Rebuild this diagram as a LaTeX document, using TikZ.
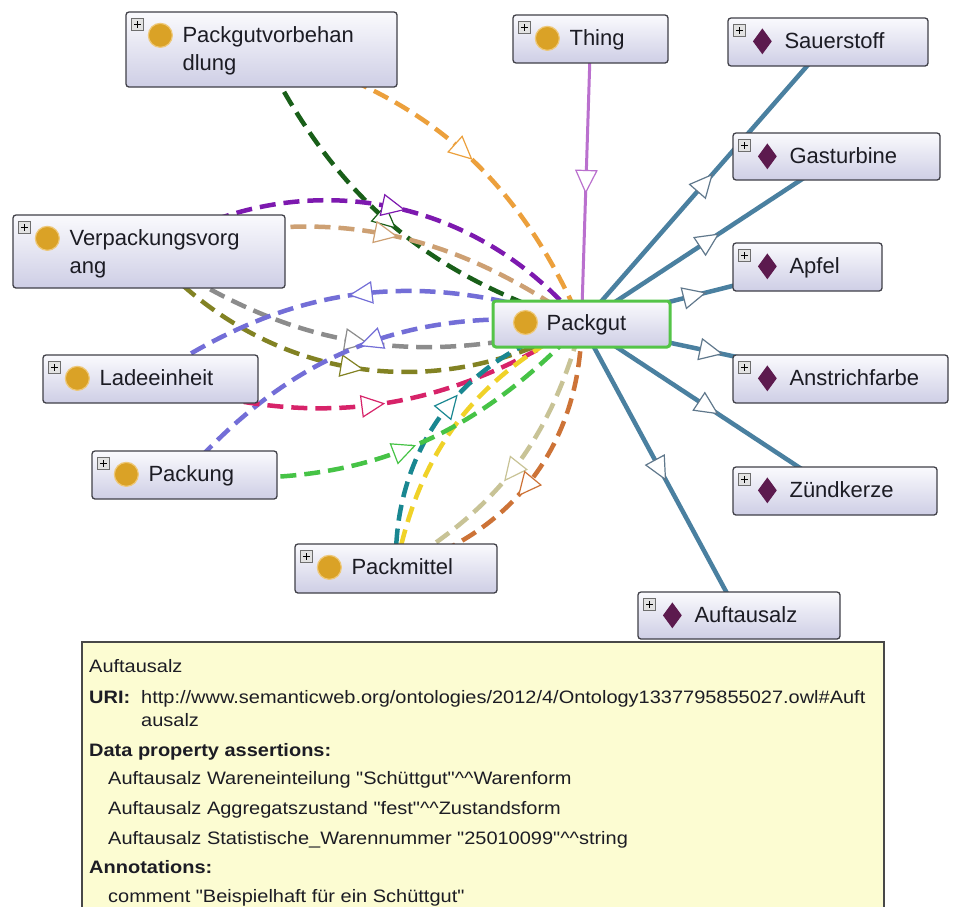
\documentclass[tikz,border=0pt]{standalone}
\usepackage{fontspec}
\setmainfont{Liberation Sans}
\newfontfamily\infofont[FakeStretch=1.11]{Liberation Sans}
\usetikzlibrary{arrows.meta,decorations.markings,shapes.geometric,calc}

\pgfdeclarelayer{bg}
\pgfdeclarelayer{edges}
\pgfsetlayers{bg,edges,main}

% box and icon colours
\definecolor{boxline}{RGB}{64,64,72}
\definecolor{boxtop}{RGB}{250,250,253}
\definecolor{boxbot}{RGB}{206,206,229}
\definecolor{txt}{RGB}{28,28,36}
\definecolor{gold}{RGB}{218,162,38}
\definecolor{goldrim}{RGB}{238,200,120}
\definecolor{plum}{RGB}{92,26,78}
\definecolor{selgreen}{RGB}{84,196,72}
\definecolor{plusfill}{RGB}{226,226,226}
\definecolor{plusline}{RGB}{110,110,110}
\definecolor{infofill}{RGB}{252,252,210}
\definecolor{infoline}{RGB}{72,72,72}
% edge colours
\definecolor{ind}{RGB}{74,128,160}
\definecolor{indarr}{RGB}{96,120,140}
\definecolor{thingc}{RGB}{186,112,206}
\definecolor{cDgreen}{RGB}{25,95,25}
\definecolor{cOrange}{RGB}{236,160,60}
\definecolor{cPurple}{RGB}{125,25,175}
\definecolor{cTan}{RGB}{205,160,115}
\definecolor{cGray}{RGB}{140,140,140}
\definecolor{cOlive}{RGB}{130,130,35}
\definecolor{cBlue}{RGB}{115,110,215}
\definecolor{cPink}{RGB}{215,35,105}
\definecolor{cGreen}{RGB}{70,195,70}
\definecolor{cTeal}{RGB}{25,135,145}
\definecolor{cYellow}{RGB}{240,210,40}
\definecolor{cKhaki}{RGB}{200,195,150}
\definecolor{cBrown}{RGB}{205,115,55}

\tikzset{
  box/.style={draw=boxline, line width=1.3pt, rounded corners=3pt,
    top color=boxtop, bottom color=boxbot, inner sep=0pt},
  selbox/.style={box, draw=selgreen, line width=3pt},
  lbl/.style={font=\fontsize{22}{27}\selectfont, text=txt, anchor=base west, inner sep=0pt},
  plusbox/.style={draw=plusline, fill=plusfill, line width=0.8pt, minimum size=12.5pt,
    inner sep=0pt, path picture={
      \draw[black, line width=1.3pt]
        ([xshift=-3.5pt]path picture bounding box.center) -- ([xshift=3.5pt]path picture bounding box.center)
        ([yshift=-3.5pt]path picture bounding box.center) -- ([yshift=3.5pt]path picture bounding box.center);}},
  clsicon/.style={circle, fill=gold, draw=goldrim, line width=1.2pt, minimum size=24pt, inner sep=0pt},
  indicon/.style={diamond, fill=plum, minimum width=19pt, minimum height=26pt, inner sep=0pt},
  tri/.style={fill=white, line width=1.2pt, solid, line join=miter},
  % open triangle pointing along the path, centred at the given fraction
  fwd/.style 2 args={postaction={decorate, decoration={markings, mark=at position #2 with
    {\filldraw[tri, draw=#1] (11pt,0pt) -- (-11pt,10.5pt) -- (-11pt,-10.5pt) -- cycle;}}}},
  % open triangle pointing back along the path
  bwd/.style 2 args={postaction={decorate, decoration={markings, mark=at position #2 with
    {\filldraw[tri, draw=#1] (-11pt,0pt) -- (11pt,10.5pt) -- (11pt,-10.5pt) -- cycle;}}}},
  prop/.style={draw=#1, line width=4.5pt, dash pattern=on 16pt off 8pt},
  inst/.style={draw=ind, line width=4.5pt, fwd={indarr}{0.5}},
  subcls/.style={draw=thingc, line width=3pt, fwd={thingc}{0.5}},
  infobox/.style={draw=infoline, fill=infofill, line width=2pt, inner sep=0pt, anchor=north west},
  infotxt/.style={font=\infofont\fontsize{18}{22}\selectfont, text=txt, anchor=base west, inner sep=0pt},
}

% class box: name, x, y, width, height, label
\newcommand\ogclass[6]{%
  \node[box, minimum width=#4pt, minimum height=#5pt] (#1) at (#2,#3) {};
  \node[plusbox] (#1-plus) at ([shift={(12,13)}]#1.north west) {};
  \node[clsicon] (#1-icon) at ([shift={(35,24)}]#1.north west) {};
  \node[lbl] (#1-text) at ([shift={(57,31)}]#1.north west) {#6};
}
% individual box: name, x, y, width, height, label
\newcommand\ogindiv[6]{%
  \node[box, minimum width=#4pt, minimum height=#5pt] (#1) at (#2,#3) {};
  \node[plusbox] (#1-plus) at ([shift={(12,13)}]#1.north west) {};
  \node[indicon] (#1-icon) at ([shift={(35,24)}]#1.north west) {};
  \node[lbl] (#1-text) at ([shift={(57,31)}]#1.north west) {#6};
}

\begin{document}
\begin{tikzpicture}[x=1pt,y=-1pt]
\useasboundingbox (0,0) rectangle (960,906);
\begin{pgfonlayer}{bg}
  \fill[white] (0,0) rectangle (960,906);
\end{pgfonlayer}

% classes
\ogclass{vorb}{261.5}{49.5}{271}{75}{Packgutvorbehan}
\node[lbl] (vorb-text2) at ([shift={(57,59.5)}]vorb.north west) {dlung};
\ogclass{thing}{590.5}{39}{155}{48}{Thing}
\ogclass{vorgang}{149}{251.5}{272}{73}{Verpackungsvorg}
\node[lbl] (vorgang-text2) at ([shift={(57,59.5)}]vorgang.north west) {ang};
\ogclass{lade}{150.5}{379}{215}{48}{Ladeeinheit}
\ogclass{packung}{184.5}{475}{185}{48}{Packung}
\ogclass{packmittel}{396}{568.5}{202}{49}{Packmittel}

% selected class
\node[selbox, minimum width=177pt, minimum height=46pt] (packgut) at (581.5,324) {};
\node[clsicon] (packgut-icon) at ([shift={(34,23)}]packgut.north west) {};
\node[lbl] (packgut-text) at ([shift={(55,31)}]packgut.north west) {Packgut};

% individuals
\ogindiv{sauer}{828}{42}{200}{48}{Sauerstoff}
\ogindiv{gas}{836.5}{156.5}{207}{47}{Gasturbine}
\ogindiv{apfel}{807.5}{267}{149}{48}{Apfel}
\ogindiv{anstrich}{840.5}{379}{215}{48}{Anstrichfarbe}
\ogindiv{zuend}{835}{491}{204}{48}{Zündkerze}
\ogindiv{auftau}{739}{615.5}{202}{47}{Auftausalz}

% connectors, kept behind the boxes
\begin{pgfonlayer}{edges}
  \draw[subcls] (thing.center) -- (packgut.center);
  \foreach \t in {sauer,gas,apfel,anstrich,zuend,auftau}
    \draw[inst] (packgut.center) -- (\t.center);
  \draw[prop=cDgreen, fwd={cDgreen}{0.49}] (vorb.center) to[bend right=23] (packgut.center);
  \draw[prop=cOrange, fwd={cOrange}{0.52}] (vorb.center) to[bend left=26] (packgut.center);
  \draw[prop=cPurple, fwd={cPurple}{0.53}] (vorgang.center) to[bend left=41] (packgut.center);
  \draw[prop=cTan, fwd={cTan}{0.525}] (vorgang.center) to[bend left=26] (packgut.center);
  \draw[prop=cGray, fwd={cGray}{0.5}] (vorgang.center) to[bend right=25] (packgut.center);
  \draw[prop=cOlive, fwd={cOlive}{0.5}] (vorgang.center) to[bend right=39] (packgut.center);
  \draw[prop=cBlue, bwd={cBlue}{0.505}] (lade.center) to[bend left=27] (packgut.center);
  \draw[prop=cBlue, bwd={cBlue}{0.52}] (packung.center) to[bend left=28] (packgut.center);
  \draw[prop=cPink, fwd={cPink}{0.5}] (lade.center) to[bend right=25] (packgut.center);
  \draw[prop=cTeal, fwd={cTeal}{0.53}] (packmittel.center) to[bend left=39] (packgut.center);
  \draw[prop=cYellow] (packmittel.center) to[bend left=26] (packgut.center);
  \draw[prop=cGreen, fwd={cGreen}{0.505}] (packung.center) to[bend right=26] (packgut.center);
  \draw[prop=cKhaki, bwd={cKhaki}{0.48}] (packmittel.center) to[bend right=22] (packgut.center);
  \draw[prop=cBrown, bwd={cBrown}{0.47}] (packmittel.center) to[bend right=37] (packgut.center);
\end{pgfonlayer}

% tooltip for the selected individual
\begin{scope}
\clip (0,0) rectangle (960,906);
\node[infobox, minimum width=802pt, minimum height=290pt] (info) at (81,641) {};
\end{scope}
\node[infotxt] (info1) at ([shift={(8,31)}]info.north west) {Auftausalz};
\node[infotxt] (info2) at ([shift={(8,62)}]info.north west) {\bfseries URI:};
\node[infotxt] (info3) at ([shift={(60,62)}]info.north west) {http://www.semanticweb.org/ontologies/2012/4/Ontology1337795855027.owl\#Auft};
\node[infotxt] (info4) at ([shift={(60,85)}]info.north west) {ausalz};
\node[infotxt] (info5) at ([shift={(8,115)}]info.north west) {\bfseries Data property assertions:};
\node[infotxt] (info6) at ([shift={(27,143)}]info.north west) {Auftausalz Wareneinteilung "Schüttgut"\textasciicircum\textasciicircum Warenform};
\node[infotxt] (info7) at ([shift={(27,173)}]info.north west) {Auftausalz Aggregatszustand "fest"\textasciicircum\textasciicircum Zustandsform};
\node[infotxt] (info8) at ([shift={(27,203)}]info.north west) {Auftausalz Statistische\_Warennummer "25010099"\textasciicircum\textasciicircum string};
\node[infotxt] (info9) at ([shift={(8,232)}]info.north west) {\bfseries Annotations:};
\node[infotxt] (info10) at ([shift={(27,261)}]info.north west) {comment "Beispielhaft für ein Schüttgut"};
\end{tikzpicture}
\end{document}
